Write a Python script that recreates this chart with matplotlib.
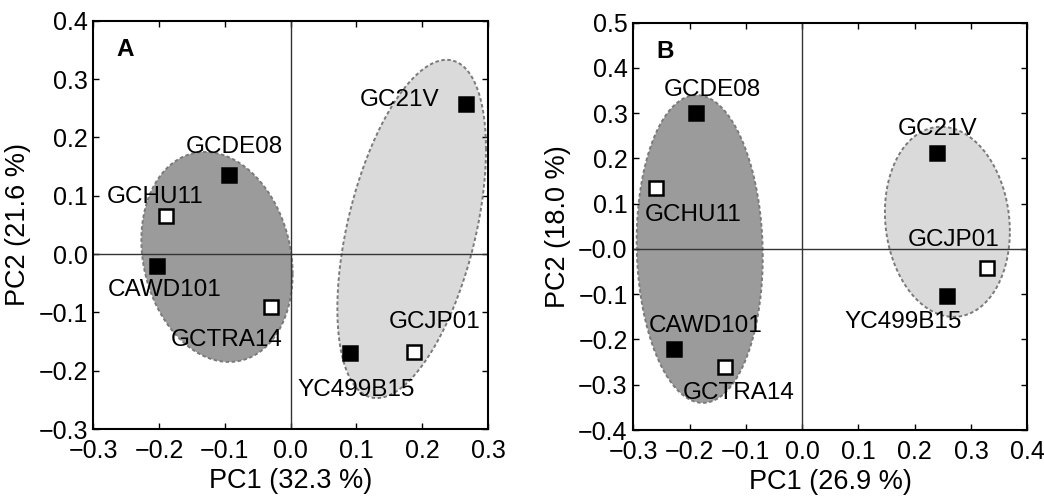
import matplotlib
matplotlib.use("Agg")
import matplotlib.pyplot as plt
import numpy as np


plt.rcParams['font.family'] = ['Liberation Sans', 'DejaVu Sans']
plt.rcParams['axes.unicode_minus'] = True

names = ['GC21V', 'GCDE08', 'GCHU11', 'CAWD101', 'GCTRA14', 'YC499B15', 'GCJP01']
filled = [True, True, False, True, False, True, False]

pc1_a = [0.267, -0.093, -0.190, -0.203, -0.030, 0.090, 0.188]
pc2_a = [0.257, 0.135, 0.065, -0.020, -0.090, -0.170, -0.168]
pc1_b = [0.240, -0.189, -0.259, -0.227, -0.137, 0.258, 0.328]
pc2_b = [0.213, 0.301, 0.135, -0.220, -0.261, -0.104, -0.041]

# group ellipses: centre x, centre y, half width, half height, correlation
ellipses_a = [(-0.112, -0.005, 0.115, 0.180, -0.16), (0.184, 0.043, 0.113, 0.290, 0.47)]
ellipses_b = [(-0.182, 0.000, 0.112, 0.340, -0.05), (0.258, 0.060, 0.111, 0.210, -0.10)]

xlabel_a = 'PC1 (32.3 %)'
ylabel_a = 'PC2 (21.6 %)'
xlabel_b = 'PC1 (26.9 %)'
ylabel_b = 'PC2 (18.0 %)'

# label offsets in pixels (dx, dy)
offsets_a = {
  'GC21V': (-27, 4, 'right'), 'GCDE08': (5, 28, 'center'), 'GCHU11': (-11, 19, 'center'),
  'CAWD101': (7, -24, 'center'), 'GCTRA14': (-44, -33, 'center'),
  'YC499B15': (6, -37, 'center'), 'GCJP01': (20, 30, 'center'),
}
offsets_b = {
  'GC21V': (0, 24, 'center'), 'GCDE08': (17, 23, 'center'), 'GCHU11': (37, -27, 'center'),
  'CAWD101': (31, 23, 'center'), 'GCTRA14': (14, -26, 'center'),
  'YC499B15': (-44, -26, 'center'), 'GCJP01': (-33, 28, 'center'),
}

fills = ['#9b9b9b', '#dadada']


def draw_ellipse(ax, ell, color):
  cx, cy, rx, ry, rho = ell
  t = np.linspace(0, 2 * np.pi, 300)
  x = cx + rx * np.cos(t)
  y = cy + ry * (rho * np.cos(t) + np.sqrt(1 - rho ** 2) * np.sin(t))
  ax.fill(x, y, facecolor=color, edgecolor='none', zorder=1)
  ax.plot(x, y, color='#7a7a7a', lw=1.4, ls=(0, (1.8, 1.3)), zorder=2)


def panel(ax, pc1, pc2, ellipses, offsets, letter, xlim, ylim, xticks, yticks, xlabel, ylabel):
  for ell, c in zip(ellipses, fills):
    draw_ellipse(ax, ell, c)
  ax.axhline(0, color='#333333', lw=1.0, zorder=2)
  ax.axvline(0, color='#333333', lw=1.0, zorder=2)
  for n, x, y, f in zip(names, pc1, pc2, filled):
    ax.plot(x, y, 's', ms=10, mfc='black' if f else 'white', mec='black', mew=1.8, zorder=4)
    dx, dy, ha = offsets[n]
    ax.annotate(n, (x, y), xytext=(dx, dy), textcoords='offset pixels',
                ha=ha, va='center', fontsize=17.5, zorder=5)
  ax.set_xlim(*xlim)
  ax.set_ylim(*ylim)
  ax.set_xticks(xticks)
  ax.set_yticks(yticks)
  ax.set_xticklabels([f'{v:.1f}'.replace('-', '\u2212') for v in xticks])
  ax.set_yticklabels([f'{v:.1f}'.replace('-', '\u2212') for v in yticks])
  ax.tick_params(direction='in', length=4, width=1.0, top=True, right=True,
                 labelsize=18)
  ax.tick_params(axis='x', pad=7)
  ax.tick_params(axis='y', pad=4)
  for s in ax.spines.values():
    s.set_linewidth(1.5)
  ax.set_xlabel(xlabel, fontsize=19.5, labelpad=4)
  ax.set_ylabel(ylabel, fontsize=19.5, labelpad=5)
  ax.text(0.08, 0.93, letter, transform=ax.transAxes, fontsize=17.5,
          fontweight='bold', ha='center', va='center')


fig = plt.figure(figsize=(10.44, 5.03), dpi=100)
ax_a = fig.add_axes([0.0894, 0.1471, 0.3780, 0.8117])
ax_b = fig.add_axes([0.6066, 0.1451, 0.3774, 0.8098])

panel(ax_a, pc1_a, pc2_a, ellipses_a, offsets_a, 'A', (-0.3, 0.3), (-0.3, 0.4),
      np.round(np.arange(-0.3, 0.31, 0.1), 1), np.round(np.arange(-0.3, 0.41, 0.1), 1),
      xlabel_a, ylabel_a)
panel(ax_b, pc1_b, pc2_b, ellipses_b, offsets_b, 'B', (-0.3, 0.4), (-0.4, 0.5),
      np.round(np.arange(-0.3, 0.41, 0.1), 1), np.round(np.arange(-0.4, 0.51, 0.1), 1),
      xlabel_b, ylabel_b)

fig.savefig('out.png', dpi=100)
